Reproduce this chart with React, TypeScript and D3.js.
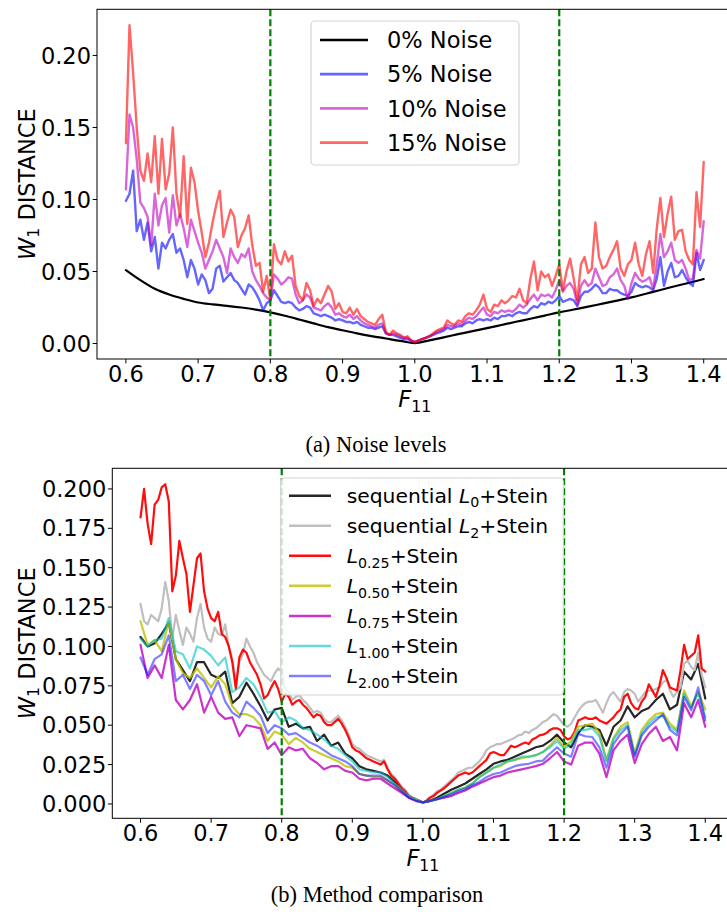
import React from "react";
import * as d3 from "d3";

// ---------- data ----------
const X_MIN = 0.6;
const X_MAX = 1.4;
const xTicks = [0.6, 0.7, 0.8, 0.9, 1.0, 1.1, 1.2, 1.3, 1.4];
const topYTicks = [0, 0.05, 0.1, 0.15, 0.2];
const bottomYTicks = [0, 0.025, 0.05, 0.075, 0.1, 0.125, 0.15, 0.175, 0.2];
const guideLines = [0.8, 1.2];

// (a) noise levels
const noise0 = [
  0.051, 0.044, 0.038, 0.034, 0.031, 0.0285, 0.0272, 0.0262, 0.025, 0.0235,
  0.0216, 0.0193, 0.0167, 0.014, 0.0114, 0.0092, 0.0071, 0.0052, 0.0035, 0.0018,
  0.0003, 0.0022, 0.0043, 0.0065, 0.0086, 0.0107, 0.0129, 0.0151, 0.0172, 0.0194,
  0.0216, 0.0236, 0.0256, 0.0277, 0.0298, 0.032, 0.0346, 0.0372, 0.0398, 0.0422,
  0.0448,
];
const noise5 = [
  0.099, 0.104, 0.12, 0.078, 0.086, 0.072, 0.084, 0.064, 0.074, 0.052, 0.07, 0.066, 0.072, 0.076, 0.063, 0.066, 0.058, 0.046, 0.058, 0.052,
  0.041, 0.048, 0.044, 0.035, 0.038, 0.052, 0.054, 0.043, 0.046, 0.049, 0.044, 0.042, 0.038, 0.034, 0.041, 0.039, 0.035, 0.03, 0.023, 0.028,
  0.03, 0.037, 0.033, 0.029, 0.028, 0.029, 0.028, 0.025, 0.023, 0.024, 0.026, 0.025, 0.021, 0.02, 0.019, 0.02, 0.019, 0.018, 0.016, 0.017,
  0.016, 0.015, 0.015, 0.014, 0.015, 0.013, 0.012, 0.011, 0.011, 0.01, 0.011, 0.012, 0.007, 0.006, 0.006, 0.005, 0.004, 0.003, 0.003, 0.002,
  0.001, 0.002, 0.003, 0.004, 0.005, 0.006, 0.007, 0.008, 0.009, 0.011, 0.01, 0.011, 0.012, 0.012, 0.014, 0.015, 0.014, 0.016, 0.017, 0.016,
  0.017, 0.016, 0.018, 0.017, 0.019, 0.019, 0.02, 0.019, 0.021, 0.022, 0.021, 0.021, 0.024, 0.026, 0.025, 0.028, 0.027, 0.029, 0.028, 0.03,
  0.033, 0.029, 0.03, 0.031, 0.03, 0.026, 0.033, 0.036, 0.036, 0.038, 0.041, 0.039, 0.035, 0.035, 0.038, 0.037, 0.037, 0.035, 0.034, 0.033,
  0.036, 0.042, 0.04, 0.039, 0.04, 0.039, 0.037, 0.045, 0.06, 0.04, 0.05, 0.056, 0.046, 0.047, 0.051, 0.046, 0.042, 0.04, 0.063, 0.051,
  0.058,
];
const noise10 = [
  0.107, 0.159, 0.15, 0.128, 0.098, 0.094, 0.088, 0.068, 0.104, 0.082, 0.096, 0.101, 0.077, 0.103, 0.082, 0.09, 0.08, 0.067, 0.086, 0.078,
  0.07, 0.063, 0.052, 0.058, 0.064, 0.072, 0.066, 0.06, 0.049, 0.066, 0.06, 0.056, 0.062, 0.06, 0.066, 0.05, 0.044, 0.04, 0.035, 0.032,
  0.03, 0.048, 0.045, 0.041, 0.043, 0.046, 0.045, 0.034, 0.028, 0.03, 0.034, 0.032, 0.025, 0.024, 0.023, 0.026, 0.028, 0.025, 0.02, 0.021,
  0.019, 0.018, 0.02, 0.017, 0.019, 0.016, 0.014, 0.013, 0.012, 0.011, 0.013, 0.014, 0.007, 0.006, 0.007, 0.006, 0.005, 0.004, 0.004, 0.002,
  0.001, 0.002, 0.003, 0.004, 0.005, 0.006, 0.008, 0.009, 0.01, 0.013, 0.012, 0.012, 0.014, 0.013, 0.016, 0.018, 0.017, 0.019, 0.022, 0.025,
  0.02, 0.019, 0.022, 0.021, 0.023, 0.022, 0.023, 0.022, 0.024, 0.027, 0.025, 0.027, 0.031, 0.034, 0.03, 0.034, 0.033, 0.034, 0.032, 0.037,
  0.044, 0.036, 0.04, 0.042, 0.038, 0.027, 0.04, 0.044, 0.04, 0.042, 0.052, 0.046, 0.04, 0.041, 0.046, 0.048, 0.052, 0.044, 0.04, 0.031,
  0.042, 0.049, 0.045, 0.043, 0.044, 0.046, 0.038, 0.055, 0.076, 0.06, 0.064, 0.07, 0.058, 0.056, 0.058, 0.052, 0.044, 0.045, 0.065, 0.059,
  0.085,
];
const noise15 = [
  0.139, 0.221, 0.188, 0.15, 0.12, 0.113, 0.132, 0.112, 0.144, 0.104, 0.142, 0.107, 0.118, 0.15, 0.104, 0.088, 0.13, 0.083, 0.122, 0.112,
  0.092, 0.077, 0.06, 0.07, 0.084, 0.096, 0.106, 0.074, 0.084, 0.093, 0.088, 0.067, 0.075, 0.08, 0.089, 0.068, 0.054, 0.056, 0.036, 0.047,
  0.03, 0.069, 0.058, 0.055, 0.064, 0.057, 0.061, 0.04, 0.033, 0.03, 0.042, 0.037, 0.026, 0.031, 0.028, 0.034, 0.04, 0.036, 0.024, 0.028,
  0.022, 0.021, 0.025, 0.02, 0.024, 0.019, 0.017, 0.015, 0.014, 0.013, 0.017, 0.02, 0.008, 0.006, 0.009, 0.007, 0.006, 0.004, 0.005, 0.002,
  0.001, 0.002, 0.003, 0.004, 0.005, 0.007, 0.009, 0.01, 0.011, 0.016, 0.014, 0.013, 0.016, 0.015, 0.019, 0.021, 0.02, 0.023, 0.027, 0.034,
  0.024, 0.022, 0.027, 0.026, 0.03, 0.028, 0.03, 0.033, 0.032, 0.038, 0.03, 0.028, 0.045, 0.057, 0.037, 0.05, 0.046, 0.048, 0.04, 0.047,
  0.055, 0.037, 0.05, 0.059, 0.045, 0.03, 0.055, 0.06, 0.049, 0.052, 0.084, 0.06, 0.052, 0.054, 0.06, 0.065, 0.071, 0.052, 0.047, 0.055,
  0.058, 0.07, 0.055, 0.047, 0.062, 0.071, 0.049, 0.08, 0.101, 0.074, 0.09, 0.102, 0.072, 0.078, 0.079, 0.064, 0.058, 0.055, 0.105, 0.081,
  0.126,
];

// (b) method comparison
const seqL0 = [
  0.106, 0.1, 0.102, 0.108, 0.115, 0.092, 0.085, 0.078, 0.09, 0.09,
  0.082, 0.08, 0.084, 0.064, 0.068, 0.077, 0.07, 0.062, 0.053, 0.06,
  0.061, 0.049, 0.051, 0.048, 0.049, 0.04, 0.044, 0.037, 0.039, 0.032,
  0.029, 0.024, 0.022, 0.021, 0.02, 0.018, 0.014, 0.01, 0.005, 0.003,
  0.001, 0.002, 0.004, 0.0065, 0.009, 0.011, 0.013, 0.016, 0.019, 0.022,
  0.0255, 0.027, 0.028, 0.03, 0.032, 0.034, 0.036, 0.037, 0.04, 0.044,
  0.039, 0.036, 0.045, 0.05, 0.049, 0.047, 0.037, 0.049, 0.053, 0.062,
  0.055, 0.059, 0.061, 0.066, 0.07, 0.06, 0.063, 0.084, 0.079, 0.089,
  0.067,
];
const seqL2 = [
  0.127, 0.116, 0.114, 0.12, 0.118, 0.116, 0.124, 0.141, 0.129, 0.105, 0.12, 0.11, 0.101, 0.112, 0.108, 0.103, 0.118, 0.127, 0.112, 0.105,
  0.103, 0.112, 0.108, 0.107, 0.114, 0.1, 0.092, 0.078, 0.09, 0.095, 0.105, 0.1, 0.096, 0.09, 0.086, 0.082, 0.08, 0.078, 0.083, 0.086,
  0.084, 0.073, 0.071, 0.066, 0.068, 0.069, 0.066, 0.064, 0.061, 0.058, 0.059, 0.058, 0.054, 0.052, 0.052, 0.054, 0.056, 0.053, 0.049, 0.044,
  0.038, 0.036, 0.035, 0.033, 0.031, 0.03, 0.029, 0.028, 0.027, 0.028, 0.023, 0.019, 0.017, 0.014, 0.011, 0.009, 0.006, 0.004, 0.003, 0.002,
  0.001, 0.002, 0.004, 0.006, 0.008, 0.009, 0.011, 0.013, 0.015, 0.017, 0.02, 0.021, 0.022, 0.023, 0.023, 0.025, 0.027, 0.03, 0.034, 0.036,
  0.037, 0.038, 0.038, 0.039, 0.04, 0.041, 0.042, 0.0435, 0.044, 0.046, 0.045, 0.047, 0.048, 0.05, 0.052, 0.053, 0.055, 0.057, 0.056, 0.053,
  0.05, 0.049, 0.051, 0.055, 0.059, 0.062, 0.064, 0.065, 0.065, 0.066, 0.062, 0.058, 0.064, 0.069, 0.071, 0.068, 0.065, 0.071, 0.073, 0.072,
  0.07, 0.065, 0.068, 0.071, 0.072, 0.072, 0.073, 0.074, 0.077, 0.079, 0.072, 0.068, 0.071, 0.074, 0.089, 0.091, 0.087, 0.085, 0.096, 0.082,
  0.074,
];
const l025 = [
  0.182, 0.2, 0.178, 0.165, 0.19, 0.193, 0.201, 0.203, 0.192, 0.135, 0.145, 0.167, 0.156, 0.146, 0.122, 0.139, 0.156, 0.159, 0.135, 0.124,
  0.118, 0.116, 0.122, 0.108, 0.106, 0.1, 0.09, 0.073, 0.093, 0.098, 0.096, 0.09, 0.086, 0.082, 0.076, 0.067, 0.069, 0.074, 0.078, 0.073,
  0.065, 0.07, 0.068, 0.063, 0.065, 0.066, 0.063, 0.061, 0.058, 0.055, 0.057, 0.056, 0.052, 0.05, 0.05, 0.052, 0.054, 0.051, 0.047, 0.042,
  0.036, 0.034, 0.033, 0.031, 0.029, 0.028, 0.027, 0.026, 0.025, 0.027, 0.022, 0.018, 0.016, 0.013, 0.01, 0.008, 0.005, 0.004, 0.003, 0.002,
  0.001, 0.002, 0.004, 0.005, 0.007, 0.0085, 0.01, 0.012, 0.014, 0.016, 0.018, 0.019, 0.02, 0.019, 0.02, 0.022, 0.024, 0.026, 0.028, 0.032,
  0.033, 0.032, 0.031, 0.031, 0.034, 0.037, 0.036, 0.037, 0.038, 0.039, 0.038, 0.041, 0.042, 0.0435, 0.044, 0.045, 0.047, 0.048, 0.048, 0.047,
  0.043, 0.041, 0.042, 0.046, 0.053, 0.054, 0.055, 0.054, 0.054, 0.055, 0.053, 0.052, 0.051, 0.053, 0.055, 0.058, 0.06, 0.068, 0.07, 0.064,
  0.061, 0.06, 0.065, 0.068, 0.076, 0.072, 0.068, 0.075, 0.085, 0.08, 0.074, 0.073, 0.072, 0.085, 0.101, 0.092, 0.094, 0.096, 0.107, 0.086,
  0.084,
];
const l050 = [
  0.116, 0.101, 0.104, 0.097, 0.116, 0.092, 0.083, 0.08, 0.086, 0.08,
  0.074, 0.081, 0.076, 0.062, 0.057, 0.057, 0.055, 0.05, 0.04, 0.046,
  0.044, 0.038, 0.042, 0.039, 0.035, 0.033, 0.031, 0.029, 0.027, 0.024,
  0.023, 0.019, 0.018, 0.017, 0.017, 0.015, 0.012, 0.008, 0.004, 0.003,
  0.001, 0.002, 0.003, 0.005, 0.007, 0.009, 0.0105, 0.013, 0.017, 0.02,
  0.023, 0.024, 0.027, 0.028, 0.029, 0.03, 0.031, 0.033, 0.037, 0.042,
  0.036, 0.04, 0.049, 0.05, 0.051, 0.045, 0.028, 0.042, 0.049, 0.052,
  0.032, 0.047, 0.053, 0.057, 0.058, 0.051, 0.047, 0.072, 0.062, 0.071,
  0.06,
];
const l075 = [
  0.101, 0.08, 0.088, 0.08, 0.101, 0.066, 0.06, 0.066, 0.076, 0.058,
  0.068, 0.058, 0.054, 0.055, 0.043, 0.05, 0.049, 0.048, 0.035, 0.039,
  0.031, 0.036, 0.034, 0.035, 0.029, 0.026, 0.022, 0.024, 0.024, 0.021,
  0.02, 0.016, 0.015, 0.016, 0.016, 0.013, 0.01, 0.007, 0.004, 0.002,
  0.001, 0.002, 0.003, 0.004, 0.005, 0.007, 0.0085, 0.011, 0.013, 0.015,
  0.017, 0.018, 0.02, 0.021, 0.022, 0.023, 0.024, 0.0255, 0.029, 0.033,
  0.027, 0.025, 0.037, 0.039, 0.039, 0.032, 0.017, 0.034, 0.04, 0.044,
  0.026, 0.038, 0.0445, 0.049, 0.04, 0.0425, 0.034, 0.064, 0.055, 0.066,
  0.049,
];
const l100 = [
  0.105, 0.1, 0.104, 0.105, 0.118, 0.097, 0.095, 0.086, 0.1, 0.098,
  0.094, 0.088, 0.093, 0.071, 0.074, 0.08, 0.076, 0.068, 0.058, 0.059,
  0.052, 0.055, 0.053, 0.048, 0.047, 0.044, 0.041, 0.037, 0.035, 0.031,
  0.027, 0.022, 0.021, 0.02, 0.02, 0.017, 0.013, 0.009, 0.005, 0.003,
  0.001, 0.002, 0.003, 0.005, 0.007, 0.009, 0.0105, 0.013, 0.017, 0.02,
  0.023, 0.025, 0.027, 0.028, 0.03, 0.03, 0.031, 0.033, 0.036, 0.04,
  0.035, 0.038, 0.047, 0.047, 0.048, 0.043, 0.027, 0.041, 0.047, 0.05,
  0.031, 0.045, 0.051, 0.055, 0.056, 0.049, 0.046, 0.07, 0.061, 0.07,
  0.055,
];
const l200 = [
  0.093, 0.082, 0.092, 0.095, 0.107, 0.078, 0.082, 0.073, 0.082, 0.078,
  0.069, 0.078, 0.065, 0.058, 0.055, 0.065, 0.061, 0.056, 0.045, 0.05,
  0.048, 0.044, 0.045, 0.042, 0.039, 0.037, 0.034, 0.031, 0.029, 0.027,
  0.024, 0.019, 0.018, 0.018, 0.018, 0.015, 0.012, 0.008, 0.004, 0.002,
  0.001, 0.002, 0.003, 0.0045, 0.006, 0.008, 0.0095, 0.012, 0.014, 0.017,
  0.019, 0.02, 0.022, 0.024, 0.025, 0.0255, 0.027, 0.0275, 0.032, 0.036,
  0.032, 0.03, 0.0445, 0.043, 0.0425, 0.036, 0.023, 0.038, 0.0445, 0.049,
  0.03, 0.0435, 0.049, 0.053, 0.057, 0.047, 0.0435, 0.068, 0.0595, 0.074,
  0.053,
];

// ---------- styling ----------
const FONT = "'DejaVu Sans', Verdana, sans-serif";
const SERIF = "'Liberation Serif', 'Times New Roman', serif";

type Part = { t: string; it?: boolean; sub?: boolean };
type Series = {
  values: number[];
  color: string;
  opacity: number;
  width: number;
  smooth?: boolean;
  label: Part[];
};

const topSeries: Series[] = [
  { values: noise0, color: "#000000", opacity: 1, width: 2.2, smooth: true, label: [{ t: "0% Noise" }] },
  { values: noise5, color: "#0000ff", opacity: 0.6, width: 2.4, label: [{ t: "5% Noise" }] },
  { values: noise10, color: "#bf00bf", opacity: 0.6, width: 2.4, label: [{ t: "10% Noise" }] },
  { values: noise15, color: "#ff0000", opacity: 0.6, width: 2.4, label: [{ t: "15% Noise" }] },
];

const stein = (pre: string, sub: string): Part[] => [
  ...(pre ? [{ t: pre }] : []),
  { t: "L", it: true },
  { t: sub, sub: true },
  { t: "+Stein" },
];

const bottomSeries: Series[] = [
  { values: seqL0, color: "#000000", opacity: 0.85, width: 2.2, label: stein("sequential ", "0") },
  { values: seqL2, color: "#bfbfbf", opacity: 1, width: 2.2, label: stein("sequential ", "2") },
  { values: l025, color: "#ff0000", opacity: 0.95, width: 2.2, label: stein("", "0.25") },
  { values: l050, color: "#bfbf00", opacity: 0.8, width: 2.2, label: stein("", "0.50") },
  { values: l075, color: "#bf00bf", opacity: 0.8, width: 2.2, label: stein("", "0.75") },
  { values: l100, color: "#00bfbf", opacity: 0.6, width: 2.2, label: stein("", "1.00") },
  { values: l200, color: "#0000ff", opacity: 0.5, width: 2.2, label: stein("", "2.00") },
];

function RichText(props: {
  parts: Part[];
  x: number;
  y: number;
  size: number;
  anchor?: string;
  transform?: string;
}) {
  const { parts, x, y, size, anchor, transform } = props;
  const shift = size * 0.22;
  let offset = 0;
  return (
    <text
      x={x}
      y={y}
      fontSize={size}
      fontFamily={FONT}
      textAnchor={anchor}
      transform={transform}
      fill="#000"
      style={{ whiteSpace: "pre" }}
    >
      {parts.map((p, i) => {
        const target = p.sub ? shift : 0;
        const dy = target - offset;
        offset = target;
        return (
          <tspan
            key={i}
            dy={dy !== 0 ? dy : undefined}
            fontStyle={p.it ? "italic" : undefined}
            fontSize={p.sub ? size * 0.7 : undefined}
          >
            {p.t}
          </tspan>
        );
      })}
    </text>
  );
}

type Box = { left: number; right: number; top: number; bottom: number };
type LegendCfg = {
  x: number;
  y: number;
  w: number;
  h: number;
  row0: number;
  step: number;
  lineX1: number;
  lineX2: number;
  textX: number;
  size: number;
};

function Panel(props: {
  box: Box;
  series: Series[];
  yTicks: number[];
  yFmt: (v: number) => string;
  legend: LegendCfg;
}) {
  const { box, series, yTicks, yFmt, legend } = props;
  const xPad = (X_MAX - X_MIN) * 0.05;
  const x = d3.scaleLinear().domain([X_MIN - xPad, X_MAX + xPad]).range([box.left, box.right]);
  const all = series.flatMap((s) => s.values);
  const lo = d3.min(all) as number;
  const hi = d3.max(all) as number;
  const yPad = (hi - lo) * 0.05;
  const y = d3.scaleLinear().domain([lo - yPad, hi + yPad]).range([box.bottom, box.top]);
  const tickSize = 4.4;
  const fs = 22.5;

  const paths = series.map((s) => {
    const n = s.values.length;
    const line = d3
      .line<number>()
      .x((_, i) => x(X_MIN + (i * (X_MAX - X_MIN)) / (n - 1)))
      .y((v) => y(v))
      .curve(s.smooth ? d3.curveMonotoneX : d3.curveLinear);
    return line(s.values) as string;
  });

  return (
    <g>
      {series.map((s, i) => (
        <path
          key={i}
          d={paths[i]}
          fill="none"
          stroke={s.color}
          strokeOpacity={s.opacity}
          strokeWidth={s.width}
          strokeLinejoin="round"
          strokeLinecap="round"
        />
      ))}
      {guideLines.map((g) => (
        <line
          key={g}
          x1={x(g)}
          x2={x(g)}
          y1={box.top}
          y2={box.bottom}
          stroke="#008000"
          strokeWidth={2.2}
          strokeDasharray="7,3"
        />
      ))}
      {/* legend */}
      <rect
        x={legend.x}
        y={legend.y}
        width={legend.w}
        height={legend.h}
        rx={4}
        fill="#ffffff"
        fillOpacity={0.8}
        stroke="#d4d4d4"
        strokeWidth={1.2}
      />
      {series.map((s, i) => {
        const ry = legend.row0 + i * legend.step;
        return (
          <g key={"lg" + i}>
            <line
              x1={legend.lineX1}
              x2={legend.lineX2}
              y1={ry}
              y2={ry}
              stroke={s.color}
              strokeOpacity={s.opacity}
              strokeWidth={s.width + 0.3}
            />
            <RichText parts={s.label} x={legend.textX} y={ry + legend.size * 0.36} size={legend.size} />
          </g>
        );
      })}
      {/* spines */}
      <rect
        x={box.left}
        y={box.top}
        width={box.right - box.left}
        height={box.bottom - box.top}
        fill="none"
        stroke="#000"
        strokeWidth={1}
      />
      {/* x axis */}
      {xTicks.map((t) => (
        <g key={"x" + t}>
          <line x1={x(t)} x2={x(t)} y1={box.bottom} y2={box.bottom + tickSize} stroke="#000" strokeWidth={1} />
          <text x={x(t)} y={box.bottom + 22.7} fontSize={fs} fontFamily={FONT} textAnchor="middle" fill="#000">
            {t.toFixed(1)}
          </text>
        </g>
      ))}
      {/* y axis */}
      {yTicks.map((t) => (
        <g key={"y" + t}>
          <line x1={box.left - tickSize} x2={box.left} y1={y(t)} y2={y(t)} stroke="#000" strokeWidth={1} />
          <text
            x={box.left - 6}
            y={y(t) + fs * 0.36}
            fontSize={fs}
            fontFamily={FONT}
            textAnchor="end"
            fill="#000"
          >
            {yFmt(t)}
          </text>
        </g>
      ))}
      {/* axis labels */}
      <RichText
        parts={[{ t: "F", it: true }, { t: "11", sub: true }]}
        x={(box.left + box.right) / 2}
        y={box.bottom + 47.7}
        size={fs}
        anchor="middle"
      />
      <RichText
        parts={[{ t: "W", it: true }, { t: "1", sub: true }, { t: " DISTANCE" }]}
        x={0}
        y={0}
        size={fs}
        anchor="middle"
        transform={`translate(34.5, ${(box.top + box.bottom) / 2}) rotate(-90)`}
      />
    </g>
  );
}

export default function App() {
  return (
    <svg
      width={727}
      height={918}
      viewBox="0 0 727 918"
      style={{ position: "absolute", left: 0, top: 0, background: "#fff" }}
    >
      <rect x={0} y={0} width={727} height={918} fill="#fff" />
      <Panel
        box={{ left: 97, right: 732.6, top: 9.3, bottom: 359 }}
        series={topSeries}
        yTicks={topYTicks}
        yFmt={(v) => v.toFixed(2)}
        legend={{ x: 311, y: 21, w: 208, h: 144, row0: 40, step: 34.2, lineX1: 320, lineX2: 368, textX: 387, size: 22.5 }}
      />
      <text x={376} y={452} fontSize={22.5} fontFamily={SERIF} textAnchor="middle" fill="#000">
        (a) Noise levels
      </text>
      <Panel
        box={{ left: 112.3, right: 733.5, top: 468.3, bottom: 818.3 }}
        series={bottomSeries}
        yTicks={bottomYTicks}
        yFmt={(v) => v.toFixed(3)}
        legend={{ x: 280.7, y: 478, w: 282.6, h: 217, row0: 495.7, step: 30.05, lineX1: 289, lineX2: 331, textX: 346.7, size: 20.3 }}
      />
      <text x={377} y={901.5} fontSize={22.5} fontFamily={SERIF} textAnchor="middle" fill="#000">
        (b) Method comparison
      </text>
    </svg>
  );
}
